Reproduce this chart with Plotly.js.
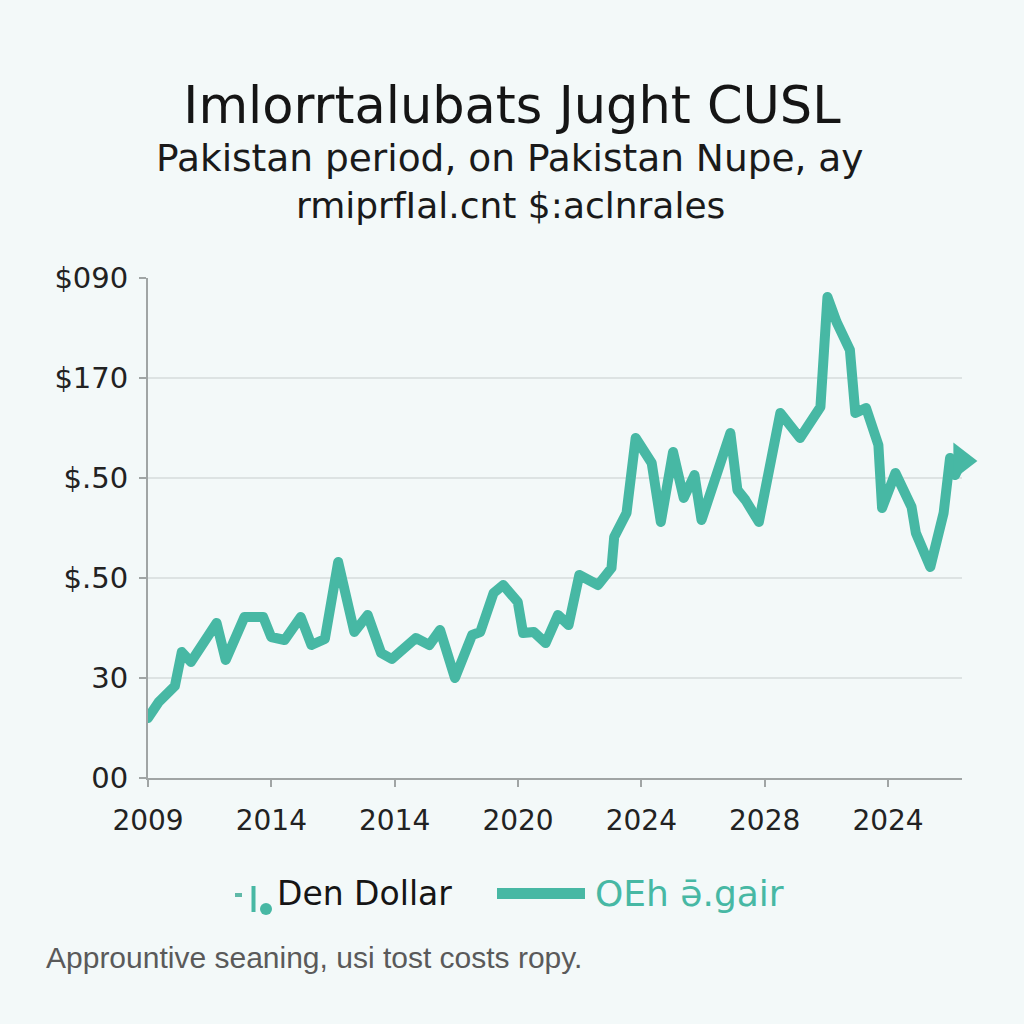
<!DOCTYPE html>
<html>
<head>
<meta charset="utf-8">
<script src="https://cdn.plot.ly/plotly-3.0.1.min.js"></script>
<style>html,body{margin:0;padding:0;background:#f3f9f9;}#chart{width:1024px;height:1024px;}
.js-line{stroke-linejoin:round !important;stroke-linecap:round !important;}</style>
</head>
<body>
<div id="chart"></div>
<script>
// Data (x in tick units, y in gridline units)
const xTickLabels = ["2009", "2014", "2014", "2020", "2024", "2028", "2024"];
const yTickLabels = ["00", "30", "$.50", "$.50", "$170", "$090"];
const seriesX = [0.00, 0.087, 0.218, 0.274, 0.348, 0.413, 0.556, 0.630, 0.782, 0.934,
  0.999, 1.108, 1.238, 1.325, 1.434, 1.542, 1.608, 1.673, 1.781, 1.890,
  1.977, 2.172, 2.281, 2.368, 2.489, 2.628, 2.694, 2.802, 2.880, 2.998,
  3.041, 3.128, 3.224, 3.324, 3.410, 3.497, 3.649, 3.758, 3.780, 3.880,
  3.954, 4.084, 4.158, 4.257, 4.344, 4.431, 4.488, 4.618, 4.722, 4.779,
  4.844, 4.953, 5.127, 5.287, 5.452, 5.509, 5.583, 5.691, 5.735, 5.822,
  5.922, 5.952, 6.060, 6.191, 6.226, 6.343, 6.451, 6.503, 6.545, 6.595];
const seriesY = [0.60, 0.76, 0.92, 1.26, 1.16, 1.28, 1.55, 1.18, 1.61, 1.61,
  1.41, 1.38, 1.61, 1.33, 1.39, 2.16, 1.81, 1.46, 1.63, 1.25,
  1.19, 1.40, 1.33, 1.48, 1.00, 1.43, 1.46, 1.85, 1.93, 1.76,
  1.45, 1.46, 1.35, 1.63, 1.53, 2.03, 1.93, 2.10, 2.41, 2.65,
  3.40, 3.15, 2.56, 3.26, 2.80, 3.03, 2.58, 3.05, 3.45, 2.88,
  2.78, 2.56, 3.65, 3.40, 3.71, 4.81, 4.56, 4.28, 3.65, 3.70,
  3.33, 2.70, 3.05, 2.71, 2.45, 2.11, 2.65, 3.20, 3.03, 3.17];
const titleText = "Imlorrtalubats Jught CUSL";
const subtitle1 = "Pakistan period, on Pakistan Nupe, ay";
const subtitle2 = "rmiprfIal.cnt $:aclnrales";
const legend1 = "Den Dollar";
const legend2 = "OEh ə̄.gair";
const footer = "Apprountive seaning, usi tost costs ropy.";

const teal = "#47b8a4";
const n = seriesX.length;
const markerSizes = seriesX.map((v, i) => i === n - 1 ? 32 : 0);

const trace = {
  x: seriesX, y: seriesY, type: "scatter", mode: "lines+markers",
  line: {color: teal, width: 10, shape: "linear"},
  marker: {color: teal, size: markerSizes, opacity: 1, symbol: "triangle-right", line: {width: 0}},
  cliponaxis: false, showlegend: false, hoverinfo: "skip"
};

const font = "'DejaVu Sans', Lato, sans-serif";
// helpers to place page-pixel positions in paper coordinates (plot area 148..962 x 278..778)
const px = v => (v - 148) / 814;
const py = v => (778 - v) / 500;

const layout = {
  width: 1024, height: 1024,
  paper_bgcolor: "#f3f9f9", plot_bgcolor: "#f3f9f9",
  margin: {l: 148, r: 62, t: 278, b: 246},
  showlegend: false,
  title: {text: titleText, x: 0.5, xanchor: "center", y: 1 - 105/1024, yanchor: "middle", yref: "container",
    font: {family: font, size: 51, color: "#151515"}},
  xaxis: {range: [0, 6.6], tickmode: "array", tickvals: xTickLabels.map((t, i) => i), ticktext: xTickLabels,
    showgrid: false, zeroline: false, showline: true, linecolor: "#a0a5a5", linewidth: 2,
    ticks: "outside", ticklen: 7, tickwidth: 2, tickcolor: "#a0a5a5", ticklabelstandoff: 9,
    tickfont: {family: font, size: 28, color: "#222"}},
  yaxis: {range: [0, 5], tickmode: "array", tickvals: yTickLabels.map((t, i) => i), ticktext: yTickLabels,
    showgrid: true, gridcolor: "#dde3e3", gridwidth: 2, zeroline: false, showline: true, linecolor: "#a0a5a5", linewidth: 2,
    ticks: "outside", ticklen: 7, tickwidth: 2, tickcolor: "#a0a5a5", ticklabelstandoff: 5,
    tickfont: {family: font, size: 29, color: "#222"}},
  annotations: [
    {text: subtitle1, xref: "paper", yref: "paper", x: px(510), y: py(158), xanchor: "center", yanchor: "middle",
      showarrow: false, font: {family: font, size: 37.5, color: "#1a1a1a"}},
    {text: subtitle2, xref: "paper", yref: "paper", x: px(510), y: py(205), xanchor: "center", yanchor: "middle",
      showarrow: false, font: {family: font, size: 36, color: "#1a1a1a"}},
    {text: legend1, xref: "paper", yref: "paper", x: px(275), y: py(893), xanchor: "left", yanchor: "middle",
      showarrow: false, font: {family: font, size: 33, color: "#151515"}},
    {text: legend2, xref: "paper", yref: "paper", x: px(593), y: py(893), xanchor: "left", yanchor: "middle",
      showarrow: false, font: {family: font, size: 36, color: teal}},
    {text: footer, xref: "paper", yref: "paper", x: px(44), y: py(958), xanchor: "left", yanchor: "middle",
      showarrow: false, font: {family: "'Liberation Sans', Arial, sans-serif", size: 30, color: "#5a5a5a"}}
  ],
  shapes: [
    {type: "rect", xref: "paper", yref: "paper", x0: px(497), x1: px(585), y0: py(899), y1: py(888),
      fillcolor: teal, line: {width: 0}},
    {type: "line", xref: "paper", yref: "paper", x0: px(235), x1: px(242), y0: py(895), y1: py(895),
      line: {color: "#5fb9a8", width: 4}},
    {type: "line", xref: "paper", yref: "paper", x0: px(253.5), x1: px(253.5), y0: py(886), y1: py(912),
      line: {color: teal, width: 4}},
    {type: "circle", xref: "paper", yref: "paper", x0: px(260), x1: px(272), y0: py(903), y1: py(915),
      fillcolor: teal, line: {width: 0}}
  ]
};

Plotly.newPlot("chart", [trace], layout, {displayModeBar: false, staticPlot: true});
</script>
</body>
</html>
